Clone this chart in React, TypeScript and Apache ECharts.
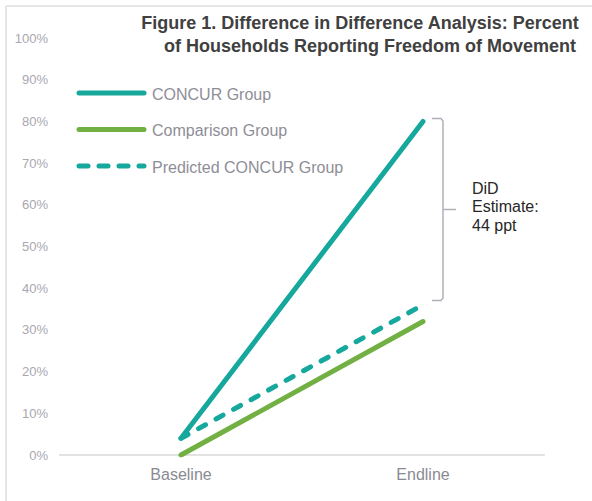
import React, { useEffect, useRef } from "react";
import * as echarts from "echarts";

const categories = ["Baseline", "Endline"];
const seriesNames = ["CONCUR Group", "Comparison Group", "Predicted CONCUR Group"];
const concurValues = [4, 80];
const comparisonValues = [0, 32];
const predictedValues = [4, 36];
const yTicks = [0, 10, 20, 30, 40, 50, 60, 70, 80, 90, 100];
const titleLines = [
  "Figure 1. Difference in Difference Analysis: Percent",
  "of Households Reporting Freedom of Movement",
];
const didLines = ["DiD", "Estimate:", "44 ppt"];

const TEAL = "#16A89C";
const GREEN = "#72B043";
const FONT = "'Liberation Sans', Arial, Helvetica, sans-serif";

export default function App() {
  const ref = useRef<HTMLDivElement>(null);
  useEffect(() => {
    if (!ref.current) return;
    const chart = echarts.init(ref.current, undefined, { renderer: "svg" });
    const styles = [
      { color: TEAL, type: "solid" as any },
      { color: GREEN, type: "solid" as any },
      { color: TEAL, type: [8, 12] as any },
    ];
    const legendGraphics: any[] = [];
    seriesNames.forEach((name, i) => {
      const y = 93 + i * 36.5;
      legendGraphics.push({
        type: "line",
        shape: { x1: 79, y1: y, x2: 144, y2: y },
        style: {
          stroke: styles[i].color,
          lineWidth: 5,
          lineCap: "round",
          lineDash: i === 2 ? [9, 11] : null,
        },
      });
      legendGraphics.push({
        type: "text",
        x: 152,
        y: y + 1,
        style: {
          text: name,
          font: `16px ${FONT}`,
          fill: "#8E8E96",
          textVerticalAlign: "middle",
        },
      });
    });
    const titleCenters = [360, 370];
    chart.setOption({
      animation: false,
      grid: { left: 60, right: 48, top: 38, bottom: 46 },
      xAxis: {
        type: "category",
        data: categories,
        axisLine: { lineStyle: { color: "#E2E2E2", width: 2 } },
        axisTick: { show: false },
        axisLabel: { color: "#8A8A92", fontSize: 16, fontFamily: FONT, margin: 11 },
      },
      yAxis: {
        type: "value",
        min: 0,
        max: 100,
        interval: 10,
        axisLine: { show: false },
        axisTick: { show: false },
        splitLine: { show: false },
        axisLabel: {
          formatter: (v: number) => (yTicks.includes(v) ? `${v}%` : ""),
          color: "#A8A8B0",
          fontSize: 13,
          fontFamily: FONT,
          margin: 12,
        },
      },
      series: [
        { name: seriesNames[0], data: concurValues },
        { name: seriesNames[1], data: comparisonValues },
        { name: seriesNames[2], data: predictedValues },
      ].map((s, i) => ({
        ...s,
        type: "line",
        symbol: "none",
        z: i === 0 ? 4 : 3,
        lineStyle: { color: styles[i].color, width: 5, type: styles[i].type, cap: "round" },
      })),
      graphic: [
        {
          type: "line",
          shape: { x1: 6, y1: 6, x2: 592, y2: 6 },
          style: { stroke: "#E6E6E6", lineWidth: 2 },
        },
        {
          type: "line",
          shape: { x1: 6, y1: 6, x2: 6, y2: 501 },
          style: { stroke: "#E6E6E6", lineWidth: 2 },
        },
        ...titleLines.map((t, i) => ({
          type: "text",
          x: titleCenters[i],
          y: 23 + i * 23,
          style: {
            text: t,
            font: `bold 18px ${FONT}`,
            fill: "#404040",
            textAlign: "center",
            textVerticalAlign: "middle",
          },
        })),
        {
          type: "polyline",
          shape: {
            points: [
              [432, 118.5],
              [441, 118.5],
              [443, 121],
              [443, 298],
              [441, 300.5],
              [432, 300.5],
            ],
          },
          style: { stroke: "#B0B0B8", lineWidth: 1.5, fill: null },
        },
        {
          type: "line",
          shape: { x1: 443, y1: 209.5, x2: 456, y2: 209.5 },
          style: { stroke: "#B0B0B8", lineWidth: 1.5 },
        },
        ...didLines.map((t, i) => ({
          type: "text",
          x: 472,
          y: 188 + i * 18.5,
          style: {
            text: t,
            font: `16px ${FONT}`,
            fill: "#262626",
            textVerticalAlign: "middle",
          },
        })),
        ...legendGraphics,
      ],
    });
    return () => chart.dispose();
  }, []);
  return <div ref={ref} style={{ width: 592, height: 501, position: "absolute", left: 0, top: 0 }} />;
}
